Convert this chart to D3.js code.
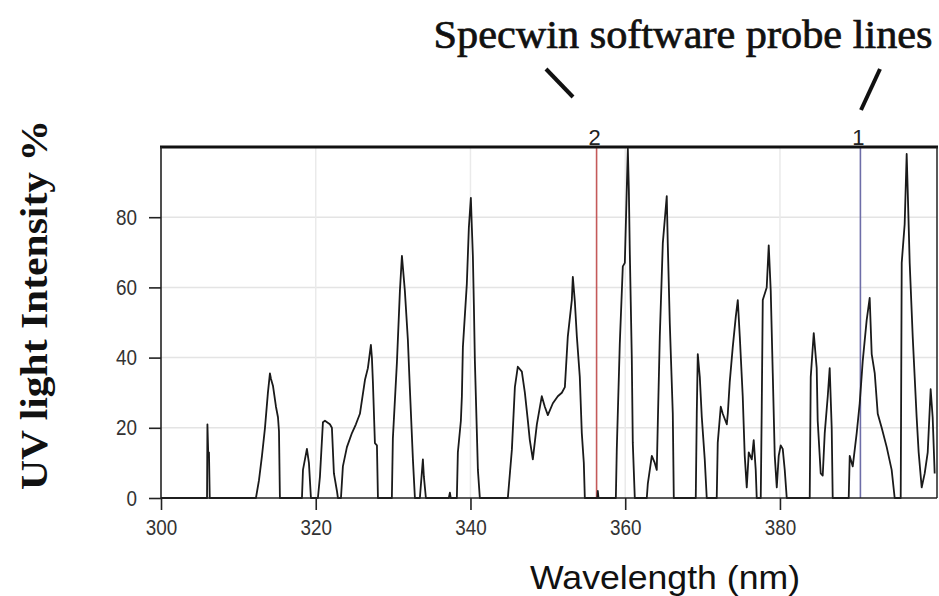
<!DOCTYPE html>
<html>
<head>
<meta charset="utf-8">
<script src="https://cdn.jsdelivr.net/npm/d3@7"></script>
<style>
    html, body { margin: 0; padding: 0; background: #fff; }
    svg { display: block; }
    .tick text { font-family: "Liberation Sans", Arial, sans-serif; }
</style>
</head>
<body>
<svg id="chart" width="939" height="596"></svg>
<script>
// spectrum: wavelength (nm) and intensity (%)
const wavelength = [
    300, 305.95, 306.0, 306.1, 306.2, 306.3,
    312.27, 312.66, 313.05, 313.44, 313.82, 314.08, 314.21, 314.47, 314.86, 315.12, 315.25, 315.37,
    318.22, 318.35, 318.86, 319.12, 319.38,
    320.28, 320.54, 320.93, 321.19, 321.83, 322.09, 322.35, 322.74, 322.87,
    323.26, 323.51, 324.03, 324.68, 325.19, 325.71, 326.36, 326.74, 327.13, 327.26, 327.39, 327.65, 327.91, 328.04,
    329.84, 329.97, 330.49, 330.88, 331.14, 331.52, 331.91, 332.17, 332.56, 332.82,
    333.46, 333.85, 333.98, 334.24,
    337.2, 337.34, 337.45,
    338.24, 338.37, 338.76, 338.89, 339.02, 339.53, 339.79, 340.05, 340.18, 340.31, 340.44, 340.57, 340.96, 341.21,
    344.83, 345.35, 345.74, 346.12, 346.64, 347.03, 347.42, 347.67, 348.06, 348.58, 349.22, 349.61, 350.0,
    350.65, 351.29, 351.81, 352.2, 352.58, 353.1, 353.23, 353.49, 353.75, 354.13, 354.39, 354.65, 354.78,
    356.4, 356.46, 356.55,
    358.79, 358.91, 359.3, 359.69, 359.95, 360.21, 360.34, 360.47, 360.59, 360.85, 360.98, 361.24,
    362.79, 362.92, 363.44, 363.82, 364.08, 364.21, 364.47, 364.86, 365.37, 365.5, 365.76, 366.15, 366.28,
    369.12, 369.25, 369.38, 369.64, 369.9, 370.28, 370.54,
    371.83, 371.96, 372.35, 372.61, 373.13, 373.26, 373.51, 373.9, 374.29, 374.55, 374.81, 375.19, 375.45,
    375.71, 375.97, 376.36, 376.61, 376.87, 377.0,
    377.52, 377.65, 377.78, 378.29, 378.55, 378.81, 379.07, 379.33, 379.59, 379.84, 380.1, 380.36, 380.62, 380.88,
    383.85, 383.98, 384.37, 384.75, 384.88, 385.27, 385.53, 385.79, 386.18, 386.43, 386.69, 386.82,
    388.89, 389.02, 389.41, 389.92, 390.31, 390.7, 391.21, 391.6, 391.86, 392.25, 392.64, 393.15, 393.8, 394.44, 394.83,
    395.61, 395.74, 396.12, 396.38, 396.51, 396.77, 397.16, 397.67, 397.93, 398.32, 398.71, 399.1, 399.48, 399.74, 400.0
];
const intensity = [
    0, 0, 21, 13, 13, 0,
    0, 5, 12, 20, 30, 35.5, 34, 32, 26, 23, 19, 0,
    0, 8, 14, 10, 0,
    0, 6, 21.6, 22, 21, 20, 7, 2, 0,
    0, 9, 14.5, 18.5, 21, 24, 33.6, 37, 43.6, 40, 33, 15.6, 15, 0,
    0, 17, 38.5, 59, 69, 59, 45, 31, 11, 0,
    0, 11, 6, 0,
    0, 1.5, 0,
    0, 13, 22, 29, 43, 61, 77, 85.5, 77, 69, 55, 39, 8, 0,
    0, 13.7, 31.6, 37.4, 36, 30, 22, 16.5, 11, 21, 29, 26, 23.6,
    27, 29, 30, 31.6, 46, 56.4, 63, 56, 46, 34.5, 18.5, 10, 0,
    0, 2, 0,
    0, 13.7, 44, 66, 67, 88.6, 99.5, 88, 70.6, 40, 15.7, 0,
    0, 4, 12, 10, 8, 21, 46, 72.6, 86, 72.6, 50, 24, 0,
    0, 24, 41, 34.5, 23, 11, 0,
    0, 15.7, 26, 24, 21, 24, 33, 43, 51.6, 56.4, 46, 29, 12,
    3, 13, 11, 16.5, 8, 0,
    0, 26, 56.4, 60, 72, 59, 35.6, 12, 3, 12, 15, 14, 8, 0,
    0, 34.5, 47, 37, 22, 7, 6.4, 18.5, 29, 37, 20, 0,
    0, 12, 9, 18.5, 27, 39, 50.7, 57, 41, 35.6, 24, 20, 14.5, 8, 0,
    0, 67, 78, 98, 88, 67, 46, 23, 13, 3, 7, 13, 31, 23, 7
];
const xTicks = [300, 320, 340, 360, 380];
const yTicks = [0, 20, 40, 60, 80];
const probeNames = ["2", "1"];
const probeNm = [356.3, 390.4];
const probeColors = ["#c45a5a", "#6d6da8"];

const svg = d3.select("#chart");
const mLeft = 161, mRight = 937, mTop = 147, mBottom = 498;

const x = d3.scaleLinear().domain([300, 400.3]).range([mLeft, mRight]);
const y = d3.scaleLinear().domain([0, 100]).range([mBottom, mTop]);

// grid
svg.append("g")
    .selectAll("line")
    .data(yTicks.slice(1))
    .join("line")
    .attr("x1", mLeft).attr("x2", mRight)
    .attr("y1", d => y(d)).attr("y2", d => y(d))
    .attr("stroke", "#e4e4e4").attr("stroke-width", 1.5);
svg.append("g")
    .selectAll("line")
    .data(xTicks.slice(1))
    .join("line")
    .attr("x1", d => x(d)).attr("x2", d => x(d))
    .attr("y1", mTop).attr("y2", mBottom)
    .attr("stroke", "#eaeaea").attr("stroke-width", 1.5);

// probe lines
probeNm.forEach((nm, i) => {
    svg.append("line")
        .attr("x1", x(nm)).attr("x2", x(nm))
        .attr("y1", mTop).attr("y2", mBottom)
        .attr("stroke", probeColors[i]).attr("stroke-width", 1.6);
    svg.append("text")
        .attr("x", x(nm) - 2).attr("y", 145)
        .attr("text-anchor", "middle")
        .attr("font-family", "Liberation Sans, Arial, sans-serif")
        .attr("font-size", 22).attr("fill", "#222")
        .text(probeNames[i]);
});

// spectrum
const line = d3.line()
    .x((d, i) => x(wavelength[i]))
    .y(d => y(d));
svg.append("path")
    .attr("d", line(intensity))
    .attr("fill", "none")
    .attr("stroke", "#1a1a1a")
    .attr("stroke-width", 1.8)
    .attr("stroke-linejoin", "round");

// frame
svg.append("line").attr("x1", mLeft - 1).attr("x2", mRight + 1)
    .attr("y1", mTop).attr("y2", mTop)
    .attr("stroke", "#111").attr("stroke-width", 3);
svg.append("line").attr("x1", mRight).attr("x2", mRight)
    .attr("y1", mTop).attr("y2", mBottom)
    .attr("stroke", "#222").attr("stroke-width", 1.5);

const xAxis = svg.append("g")
    .attr("transform", `translate(0,${mBottom})`)
    .call(d3.axisBottom(x).tickValues(xTicks).tickSize(12).tickPadding(9).tickSizeOuter(0));
const yAxis = svg.append("g")
    .attr("transform", `translate(${mLeft},0)`)
    .call(d3.axisLeft(y).tickValues(yTicks).tickSize(12).tickPadding(12).tickSizeOuter(0));

[xAxis, yAxis].forEach(g => {
    g.select(".domain").attr("stroke", "#222").attr("stroke-width", 1.6);
    g.selectAll(".tick line").attr("stroke", "#222").attr("stroke-width", 1.6);
    g.selectAll(".tick text")
        .attr("font-size", 22).attr("fill", "#333")
        .attr("textLength", d => String(d).length * 10.5)
        .attr("lengthAdjust", "spacingAndGlyphs");
});
xAxis.select(".domain").attr("d", `M${mLeft},0H${mRight}`);
yAxis.select(".domain").attr("d", `M0,${mTop}V${mBottom}`);

// titles
svg.append("text")
    .attr("x", 665).attr("y", 589)
    .attr("text-anchor", "middle")
    .attr("font-family", "Liberation Sans, Arial, sans-serif")
    .attr("font-size", 33).attr("fill", "#111")
    .attr("textLength", 270).attr("lengthAdjust", "spacingAndGlyphs")
    .text("Wavelength (nm)");

svg.append("text")
    .attr("transform", "translate(47,305) rotate(-90)")
    .attr("text-anchor", "middle")
    .attr("font-family", "Liberation Serif, Times New Roman, serif")
    .attr("font-weight", "bold")
    .attr("font-size", 38).attr("fill", "#111")
    .attr("textLength", 370).attr("lengthAdjust", "spacingAndGlyphs")
    .text("UV light Intensity %");

svg.append("text")
    .attr("x", 683).attr("y", 48)
    .attr("text-anchor", "middle")
    .attr("font-family", "Liberation Serif, Times New Roman, serif")
    .attr("font-size", 40).attr("fill", "#111")
    .attr("stroke", "#111").attr("stroke-width", 0.7)
    .attr("textLength", 499).attr("lengthAdjust", "spacingAndGlyphs")
    .text("Specwin software probe lines");

// pointer strokes from the caption to the probe labels
svg.append("line").attr("x1", 546).attr("y1", 69).attr("x2", 573).attr("y2", 97)
    .attr("stroke", "#111").attr("stroke-width", 4);
svg.append("line").attr("x1", 880).attr("y1", 69).attr("x2", 861).attr("y2", 110)
    .attr("stroke", "#111").attr("stroke-width", 4);
</script>
</body>
</html>
